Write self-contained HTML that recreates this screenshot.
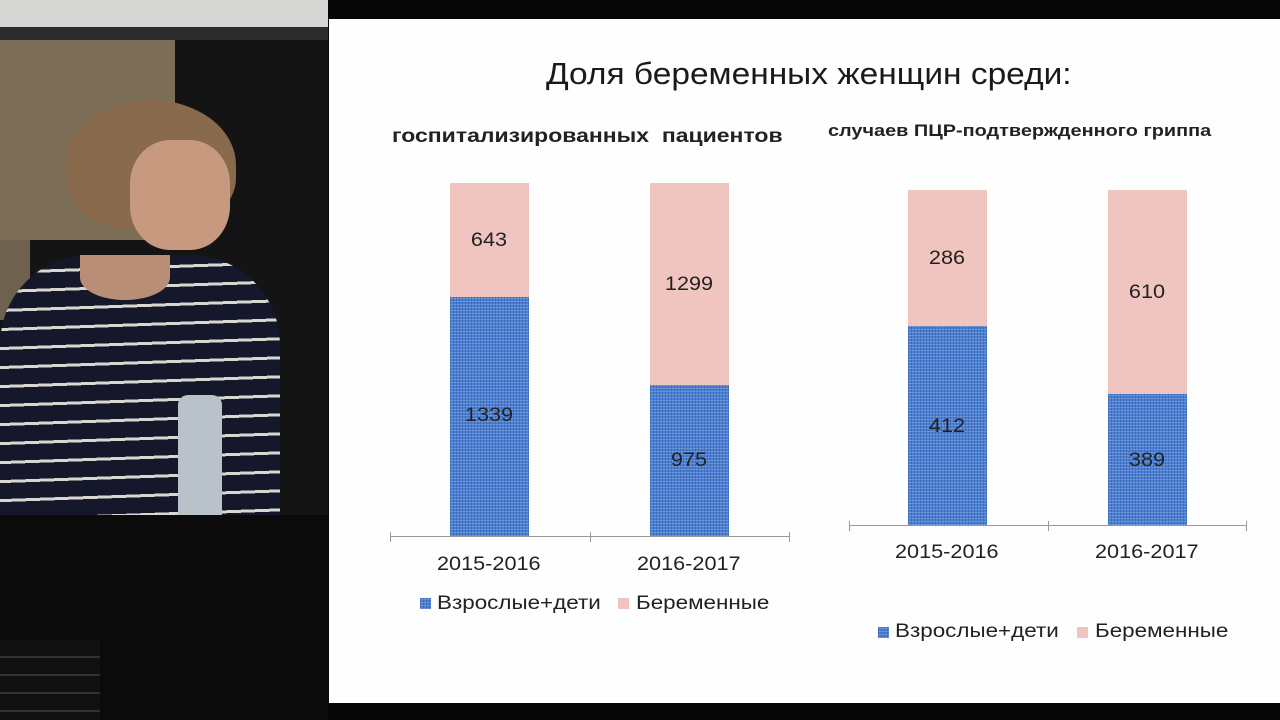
<!DOCTYPE html>
<html><head><meta charset="utf-8"><style>
body{margin:0;width:1280px;height:720px;overflow:hidden;background:#060606;position:relative;font-family:"Liberation Sans","DejaVu Sans",sans-serif}
.a{position:absolute}
.t{position:absolute;white-space:nowrap;color:#222;transform-origin:left top}
.y{transform:scaleX(1.14)}
.l{transform:scaleX(1.18)}
.b{position:absolute;background:#4a7fd2;background-image:repeating-linear-gradient(0deg,rgba(255,255,255,.18) 0 1px,transparent 1px 3px),repeating-linear-gradient(90deg,rgba(20,40,120,.25) 0 1px,transparent 1px 3px)}
.p{position:absolute;background:#f1c5bf}
.n{position:absolute;width:80px;text-align:center;font-size:19px;color:#222;transform:scaleX(1.14);transform-origin:center top}
</style></head><body>
<!-- left video -->
<div class="a" style="left:0;top:0;width:328px;height:27px;background:#d6d6d4"></div>
<div class="a" style="left:0;top:27px;width:328px;height:13px;background:#2a2c2e"></div>
<div class="a" style="left:0;top:40px;width:328px;height:480px;background:#141414"></div>
<div class="a" style="left:0;top:40px;width:175px;height:200px;background:#7d6e58"></div>
<div class="a" style="left:0;top:240px;width:30px;height:80px;background:#6e624e"></div>
<div class="a" style="left:66px;top:100px;width:170px;height:130px;border-radius:50% 50% 40% 40%;background:#8a6a4c"></div>
<div class="a" style="left:130px;top:140px;width:100px;height:110px;border-radius:40%;background:#c79a80"></div>
<div class="a" style="left:0;top:255px;width:280px;height:275px;border-radius:90px 90px 0 0;background:repeating-linear-gradient(178deg,#15182a 0 16px,#d8d8d0 16px 19px)"></div>
<div class="a" style="left:80px;top:255px;width:90px;height:45px;border-radius:0 0 50% 50%;background:#b88e76"></div>
<div class="a" style="left:178px;top:395px;width:44px;height:125px;background:#b8c2c8;border-radius:10px 10px 0 0"></div>
<div class="a" style="left:0;top:515px;width:328px;height:205px;background:#0b0b0b"></div>
<div class="a" style="left:0;top:640px;width:100px;height:80px;background:repeating-linear-gradient(180deg,#111 0 16px,#333 16px 18px)"></div>
<!-- slide -->
<div class="a" style="left:329px;top:19px;width:951px;height:684px;background:#fefefe"></div>
<div class="t" style="left:546px;top:56px;font-size:31px;color:#1a1a1a;transform:scaleX(1.08)">Доля беременных женщин среди:</div>
<div class="t" style="left:392px;top:126px;font-size:19px;font-weight:bold;transform:scaleX(1.21)">госпитализированных&nbsp; пациентов</div>
<div class="t" style="left:828px;top:121px;font-size:17px;font-weight:bold;transform:scaleX(1.17)">случаев ПЦР-подтвержденного гриппа</div>
<!-- chart1 -->
<div class="p" style="left:450px;top:183px;width:79px;height:114px"></div>
<div class="b" style="left:450px;top:297px;width:79px;height:239px"></div>
<div class="p" style="left:650px;top:183px;width:79px;height:202px"></div>
<div class="b" style="left:650px;top:385px;width:79px;height:151px"></div>
<div class="n" style="left:449px;top:230px">643</div>
<div class="n" style="left:449px;top:405px">1339</div>
<div class="n" style="left:649px;top:274px">1299</div>
<div class="n" style="left:649px;top:450px">975</div>
<div class="a" style="left:390px;top:536px;width:400px;height:1px;background:#999"></div>
<div class="a" style="left:390px;top:532px;width:1px;height:10px;background:#999"></div>
<div class="a" style="left:590px;top:532px;width:1px;height:10px;background:#999"></div>
<div class="a" style="left:789px;top:532px;width:1px;height:10px;background:#999"></div>
<div class="t y" style="left:437px;top:554px;font-size:19px">2015-2016</div>
<div class="t y" style="left:637px;top:554px;font-size:19px">2016-2017</div>
<div class="b" style="left:420px;top:598px;width:11px;height:11px"></div>
<div class="t l" style="left:437px;top:593px;font-size:19px">Взрослые+дети</div>
<div class="p" style="left:618px;top:598px;width:11px;height:11px"></div>
<div class="t l" style="left:636px;top:593px;font-size:19px">Беременные</div>
<!-- chart2 -->
<div class="p" style="left:908px;top:190px;width:79px;height:136px"></div>
<div class="b" style="left:908px;top:326px;width:79px;height:199px"></div>
<div class="p" style="left:1108px;top:190px;width:79px;height:204px"></div>
<div class="b" style="left:1108px;top:394px;width:79px;height:131px"></div>
<div class="n" style="left:907px;top:248px">286</div>
<div class="n" style="left:907px;top:416px">412</div>
<div class="n" style="left:1107px;top:282px">610</div>
<div class="n" style="left:1107px;top:450px">389</div>
<div class="a" style="left:849px;top:525px;width:398px;height:1px;background:#999"></div>
<div class="a" style="left:849px;top:521px;width:1px;height:10px;background:#999"></div>
<div class="a" style="left:1048px;top:521px;width:1px;height:10px;background:#999"></div>
<div class="a" style="left:1246px;top:521px;width:1px;height:10px;background:#999"></div>
<div class="t y" style="left:895px;top:542px;font-size:19px">2015-2016</div>
<div class="t y" style="left:1095px;top:542px;font-size:19px">2016-2017</div>
<div class="b" style="left:878px;top:627px;width:11px;height:11px"></div>
<div class="t l" style="left:895px;top:621px;font-size:19px">Взрослые+дети</div>
<div class="p" style="left:1077px;top:627px;width:11px;height:11px"></div>
<div class="t l" style="left:1095px;top:621px;font-size:19px">Беременные</div>
</body></html>
